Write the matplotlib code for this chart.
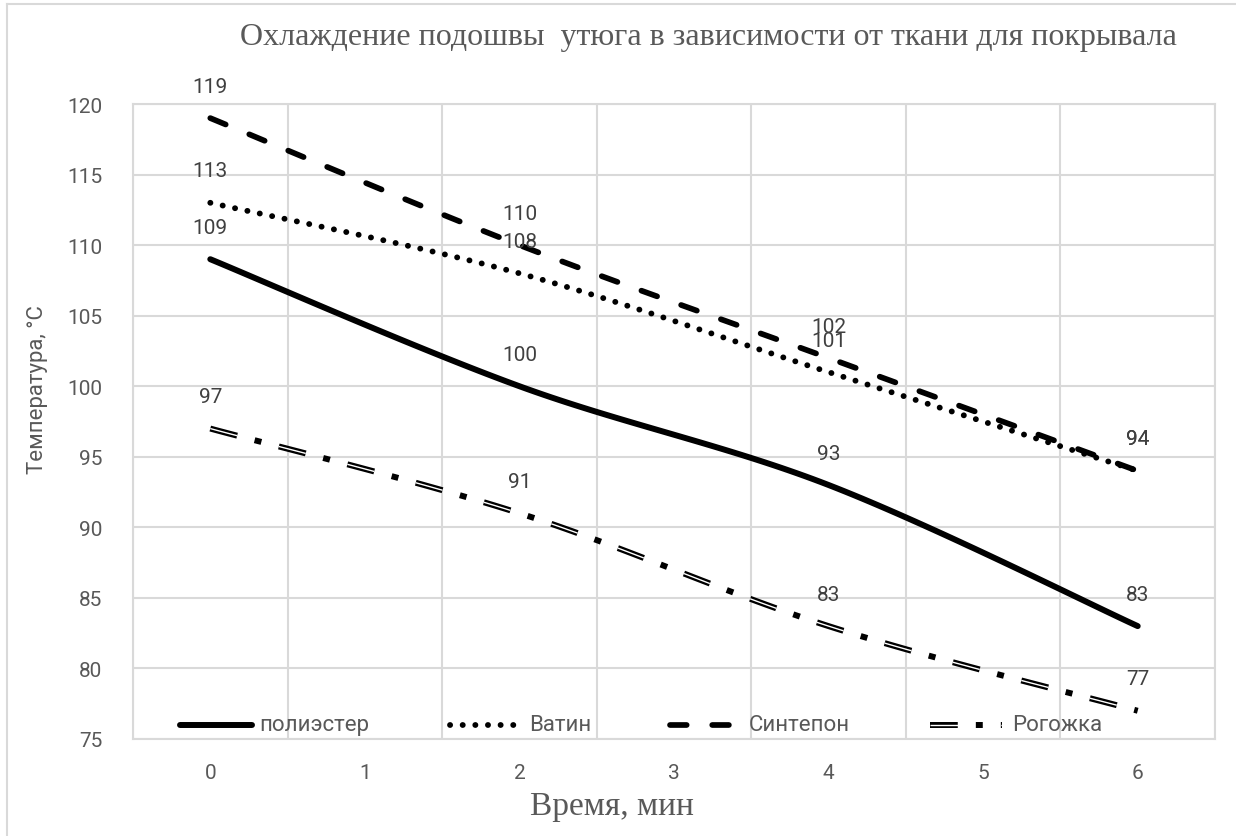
import numpy as np
import matplotlib
matplotlib.use("Agg")
import matplotlib.pyplot as plt
from matplotlib.lines import Line2D

plt.rcParams.update({
    "font.family": ["Roboto", "DejaVu Sans"],
    "lines.scale_dashes": False,
})

# ── data ──────────────────────────────────────────────
minutes   = [0, 2, 4, 6]
polyester = [109, 100, 93, 83]
vatin     = [113, 108, 101, 94]
sinteon   = [119, 110, 102, 94]
rogozhka  = [97, 91, 83, 77]
names     = ["полиэстер", "Ватин", "Синтепон", "Рогожка"]
x_ticks   = [0, 1, 2, 3, 4, 5, 6]
y_ticks   = [75, 80, 85, 90, 95, 100, 105, 110, 115, 120]

TITLE  = "Охлаждение подошвы  утюга в зависимости от ткани для покрывала"
XLABEL = "Время, мин"
YLABEL = "Температура, °С"

GRID = "#d9d9d9"
TXT  = "#595959"
LBL  = "#404040"

# line styles (points; dashes not scaled by width)
STYLES = [
    [dict(color="black", lw=4.3, solid_capstyle="round")],
    [dict(color="black", lw=4.2, dash_capstyle="round", linestyle=(0, (0.1, 9)))],
    [dict(color="black", lw=4.1, dash_capstyle="round", linestyle=(0, (12, 18.4)))],
    [dict(color="black", lw=4.3, dash_capstyle="butt", linestyle=(0, (20, 13, 5, 13))),
     dict(color="white", lw=1.0, dash_capstyle="butt", linestyle=(0, (20, 31)))],
]


def smooth(xs, ys, n=40):
    # excel-like smoothed line (cubic hermite, catmull-rom tangents)
    P = np.column_stack([np.asarray(xs, float), np.asarray(ys, float)])
    m = len(P)
    T = np.zeros_like(P)
    for i in range(m):
        a = P[max(i - 1, 0)]; b = P[min(i + 1, m - 1)]
        T[i] = (b - a) / 2
    out = []
    t = np.linspace(0, 1, n)[:, None]
    for i in range(m - 1):
        h00 = 2*t**3 - 3*t**2 + 1; h10 = t**3 - 2*t**2 + t
        h01 = -2*t**3 + 3*t**2;    h11 = t**3 - t**2
        seg = h00*P[i] + h10*T[i] + h01*P[i+1] + h11*T[i+1]
        out.append(seg if i == 0 else seg[1:])
    out = np.vstack(out)
    return out[:, 0], out[:, 1]


fig = plt.figure(figsize=(12.36, 8.37), dpi=100)
ax = fig.add_axes([133/1236, 1 - 740/837, (1215-133)/1236, (740-105)/837])

# chart-area border (only top/left visible in the original crop)
fig.add_artist(Line2D([7/1236, 7/1236], [0, 1 - 5/837], color=GRID, lw=1.5))
fig.add_artist(Line2D([7/1236, 1], [1 - 5/837, 1 - 5/837], color=GRID, lw=1.5))

ax.set_xlim(-0.5, 6.5)
ax.set_ylim(75, 120)
ax.set_xticks(x_ticks)
ax.set_xticks(np.arange(-0.5, 7, 1), minor=True)
ax.set_yticks(y_ticks)
ax.grid(True, which="minor", axis="x", color=GRID, lw=1.5)
ax.grid(True, which="major", axis="y", color=GRID, lw=1.5)
ax.grid(False, which="major", axis="x")
ax.tick_params(which="both", length=0)
ax.tick_params(axis="x", pad=17, labelsize=15, labelcolor=TXT)
ax.tick_params(axis="y", pad=22, labelsize=15, labelcolor=TXT)
for s in ax.spines.values():
    s.set_color(GRID); s.set_linewidth(1.5)
ax.set_axisbelow(True)

# series
for series, style in zip([polyester, vatin, sinteon, rogozhka], STYLES):
    xs, ys = smooth(minutes, series)
    for st in style:
        ax.plot(xs, ys, **st)

# data labels above points
for series in [polyester, vatin, sinteon, rogozhka]:
    for xv, yv in zip(minutes, series):
        ax.annotate(str(yv), (xv, yv), xytext=(0, 23), textcoords="offset points",
                    ha="center", va="center", fontsize=15, color=LBL)

# legend at bottom, inside plot area (drawn by hand like excel's)
leg_x = [180, 450, 670, 930]
leg_y = 1 - 726/837
for x0, name, style in zip(leg_x, names, STYLES):
    for st in style:
        fig.add_artist(Line2D([x0/1236, (x0 + 72)/1236], [leg_y, leg_y], **st))
    tx = x0 + 79 if name != "Рогожка" else x0 + 82
    fig.text(tx/1236, leg_y, name, ha="left", va="center", fontsize=16, color=TXT)

fig.text(708/1236, 1 - 38/837, TITLE, ha="center", va="center",
         fontsize=23, color=TXT, family="Liberation Serif")
fig.text(612/1236, 1 - 807/837, XLABEL, ha="center", va="center",
         fontsize=24, color=TXT, family="Liberation Serif")
fig.text(38/1236, 1 - 390/837, YLABEL, ha="center", va="center",
         rotation=90, fontsize=16, color=TXT)

fig.savefig("out.png", dpi=100, facecolor="white")
